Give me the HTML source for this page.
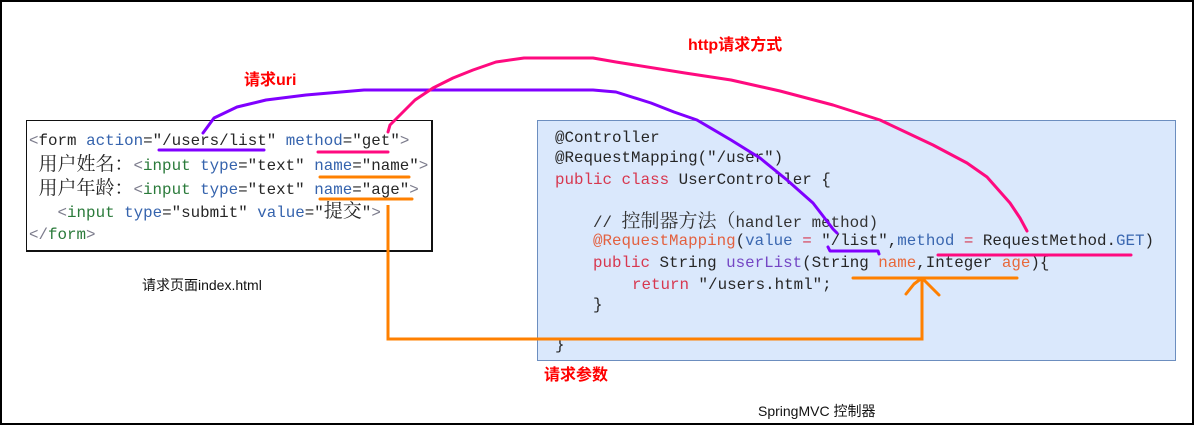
<!DOCTYPE html>
<html><head><meta charset="utf-8">
<style>
html,body{margin:0;padding:0;background:#fff;}
body{width:1195px;height:426px;position:relative;overflow:hidden;}
.frame{position:absolute;left:0;top:0;width:1190px;height:421px;border:2px solid #000;}
.lbox{position:absolute;left:26px;top:120px;width:404px;height:129px;border:1px solid #111;border-right-width:2px;border-bottom-width:2px;background:#fff;}
.rbox{position:absolute;left:537px;top:120px;width:637px;height:239px;border:1px solid #6c8ebf;background:#dae8fc;}
.c{position:absolute;font-family:"Liberation Mono","Noto Serif CJK SC",monospace;font-size:15.85px;line-height:20px;white-space:pre;color:#262626;}
.cj{font-family:"Noto Serif CJK SC","Noto Sans CJK SC",serif;font-size:19px;}
.g{color:#7c7c8c;}
.k{color:#2a7a3a;}
.a{color:#3563ad;}
.r{color:#d7374f;}
.o{color:#e3603f;}
.p{color:#7446c4;}
.b{color:#3a67b0;}
.n{color:#e8683a;}
.lab{position:absolute;font-family:"Liberation Sans","Noto Sans CJK SC",sans-serif;font-size:16px;font-weight:bold;color:#ff0000;line-height:20px;white-space:pre;}
.cap{position:absolute;font-family:"Liberation Sans","Noto Sans CJK SC",sans-serif;font-size:14px;color:#111;line-height:20px;white-space:pre;}
svg{position:absolute;left:0;top:0;}
</style></head>
<body>
<div class="frame"></div>

<div class="lbox"></div>
<div class="c" style="left:29px;top:131px;"><span class="g">&lt;</span>form <span class="a">action</span>="/users/list" <span class="a">method</span>="get"<span class="g">&gt;</span></div>
<div class="c" style="left:29px;top:153px;"> <span class="cj">用户姓名：</span><span class="g">&lt;</span><span class="k">input</span> <span class="a">type</span>="text" <span class="a">name</span>="name"<span class="g">&gt;</span></div>
<div class="c" style="left:29px;top:177px;"> <span class="cj">用户年龄：</span><span class="g">&lt;</span><span class="k">input</span> <span class="a">type</span>="text" <span class="a">name</span>="age"<span class="g">&gt;</span></div>
<div class="c" style="left:29px;top:200px;">   <span class="g">&lt;</span><span class="k">input</span> <span class="a">type</span>="submit" <span class="a">value</span>="<span class="cj">提交</span>"<span class="g">&gt;</span></div>
<div class="c" style="left:29px;top:225px;"><span class="g">&lt;/</span><span class="k">form</span><span class="g">&gt;</span></div>

<div class="rbox"></div>
<div class="c" style="left:555px;top:128px;">@Controller</div>
<div class="c" style="left:555px;top:148px;">@RequestMapping("/user")</div>
<div class="c" style="left:555px;top:170px;"><span class="r">public class</span> UserController {</div>
<div class="c" style="left:593px;top:210px;color:#333;">// <span class="cj">控制器方法（</span>handler method)</div>
<div class="c" style="left:593px;top:231px;"><span class="o">@RequestMapping</span>(<span class="b">value</span> <span class="r">=</span> "/list",<span class="b">method</span> <span class="r">=</span> RequestMethod.<span class="b">GET</span>)</div>
<div class="c" style="left:593px;top:253px;"><span class="r">public</span> String <span class="p">userList</span>(String <span class="n">name</span>,Integer <span class="n">age</span>){</div>
<div class="c" style="left:632px;top:275px;"><span class="r">return</span> "/users.html";</div>
<div class="c" style="left:593px;top:295px;">}</div>
<div class="c" style="left:555px;top:335px;">}</div>

<div class="lab" style="left:244px;top:71px;">请求uri</div>
<div class="lab" style="left:688px;top:36px;">http请求方式</div>
<div class="lab" style="left:544px;top:366px;">请求参数</div>
<div class="cap" style="left:142px;top:275px;">请求页面index.html</div>
<div class="cap" style="left:758px;top:401px;">SpringMVC 控制器</div>

<svg width="1195" height="426" viewBox="0 0 1195 426">
  <g fill="none" stroke-width="3" stroke-linecap="round" stroke-linejoin="round">
    <!-- purple: request uri -->
    <path stroke="#8000ff" d="M159,150 L264,150"/>
    <path stroke="#8000ff" d="M203,133 L214,118 L237,107 L266,100 L306,95 L364,90 L593,90 L616,92 L651,103 L674,112 L697,120 L731,140 L760,158 L787,180 L813,203 L833,229 L837,233"/>
    <path stroke="#8000ff" d="M828,247 L830,251 L878,251 L879,254"/>
    <!-- pink: http method -->
    <path stroke="#ff0a7f" d="M318,152 L388,152"/>
    <path stroke="#ff0a7f" d="M388,132 L390,125 L398,117 L415,100 L433,88 L453,78 L473,70 L496,62 L524,58 L593,58 L616,62 L685,73 L731,80 L780,91 L833,105 L880,120 L933,145 L967,163 L987,177 L1010,203 L1020,218 L1027,231"/>
    <path stroke="#ff0a7f" d="M938,255 L1131,255"/>
    <!-- orange: request params -->
    <path stroke="#ff8000" d="M320,177 L409,177"/>
    <path stroke="#ff8000" d="M320,199 L412,199"/>
    <path stroke="#ff8000" stroke-linecap="butt" stroke-linejoin="miter" d="M388,205 L388,339 L922,339 L922,279"/>
    <path stroke="#ff8000" d="M853,278 L1017,278"/>
    <path stroke="#ff8000" d="M906,294 L914,284 L922,278 L930,286 L939,295"/>
  </g>
</svg>
</body></html>
